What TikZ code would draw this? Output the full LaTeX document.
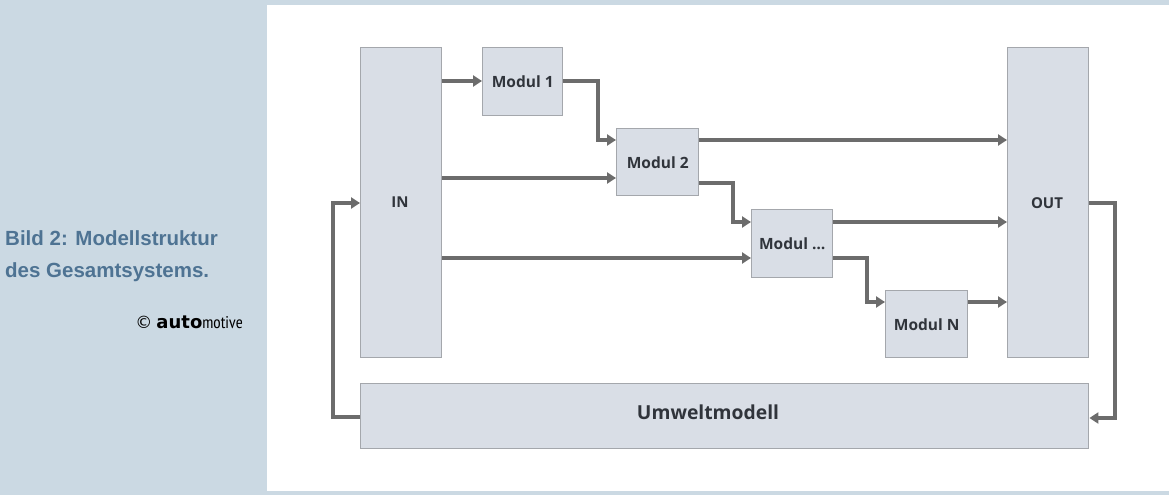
\documentclass[tikz,border=0pt]{standalone}
\usepackage{fontspec}
\setmainfont{Open Sans}
\newfontfamily\capfont{Liberation Sans}
\newfontfamily\heavyfont{DejaVu Sans}
\newfontfamily\condfont{PT Sans Narrow}
\usetikzlibrary{arrows.meta}
\definecolor{bgblue}{HTML}{CBD9E3}
\definecolor{capblue}{HTML}{4E7393}
\definecolor{boxfill}{HTML}{D9DEE6}
\definecolor{boxline}{HTML}{A4A7AC}
\definecolor{arrowgrey}{HTML}{6C6C6C}
\definecolor{txtgrey}{HTML}{30343B}
\tikzset{
  blockbox/.style={draw=boxline, line width=1.4pt, fill=boxfill, inner sep=0pt, anchor=north west, font=\bfseries\fontsize{15.5}{18}\selectfont, text=txtgrey},
  blocklabel/.style={font=\bfseries\fontsize{15}{18}\selectfont, text=txtgrey, inner sep=0pt},
  conn/.style={draw=arrowgrey, line width=3.2pt, -{Triangle[length=9pt,width=11pt]}},
  captext/.style={anchor=base west, text=capblue, font=\capfont\bfseries\fontsize{20.5}{24}\selectfont, inner sep=0pt},
}
\begin{document}
\begin{tikzpicture}[x=1pt,y=-1pt]
\fill[bgblue] (0,0) rectangle (1169,495);
\fill[white] (267,5) rectangle (1169,491);
\useasboundingbox (0,0) rectangle (1169,495);

% caption
\node[captext] (cap1) at (5,245) {Bild 2: Modellstruktur};
\node[captext] (cap2) at (5,277) {des Gesamtsystems.};
\node[anchor=base east, inner sep=0pt, text=black] (copy) at (243,328) {{\heavyfont\fontsize{17}{18}\selectfont ©\hspace{4pt}\fontsize{18}{20}\selectfont\bfseries auto}{\condfont\fontsize{17}{20}\selectfont motive}};

% boxes
\node[blockbox, minimum width=81pt, minimum height=310pt] (in) at (360,47) {};
\node[blocklabel] (inl) at (400,202) {IN};
\node[blockbox, minimum width=81pt, minimum height=310pt] (out) at (1007,47) {};
\node[blocklabel] (outl) at (1047,203) {OUT};
\node[blockbox, minimum width=80pt, minimum height=68pt] (m1) at (482,47) {Modul 1};
\node[blockbox, minimum width=82pt, minimum height=67pt] (m2) at (616,128) {Modul 2};
\node[blockbox, minimum width=81pt, minimum height=68pt] (m3) at (751,209) {Modul \dots};
\node[blockbox, minimum width=82pt, minimum height=67pt] (mn) at (885,290) {Modul N};
\node[blockbox, minimum width=728pt, minimum height=65pt] (um) at (360,383) {};
\node[font=\bfseries\fontsize{19.3}{22}\selectfont, text=txtgrey, inner sep=0pt] (uml) at (708,412) {Umweltmodell};

% connectors
\draw[conn] (in.east |- 0,81) -- (m1.west |- 0,81);
\draw[conn] (m1.east |- 0,81) -- (598,81) -- (598,140) -- (m2.west |- 0,140);
\draw[conn] (in.east |- 0,178) -- (m2.west |- 0,178);
\draw[conn] (m2.east |- 0,140) -- (out.west |- 0,140);
\draw[conn] (m2.east |- 0,183) -- (733,183) -- (733,222) -- (m3.west |- 0,222);
\draw[conn] (m3.east |- 0,222) -- (out.west |- 0,222);
\draw[conn] (in.east |- 0,258) -- (m3.west |- 0,258);
\draw[conn] (m3.east |- 0,258) -- (867,258) -- (867,302) -- (mn.west |- 0,302);
\draw[conn] (mn.east |- 0,302) -- (out.west |- 0,302);
\draw[conn] (out.east |- 0,203) -- (1115,203) -- (1115,418) -- (um.east |- 0,418);
\draw[conn] (um.west |- 0,417) -- (333,417) -- (333,203) -- (in.west |- 0,203);
\end{tikzpicture}
\end{document}
